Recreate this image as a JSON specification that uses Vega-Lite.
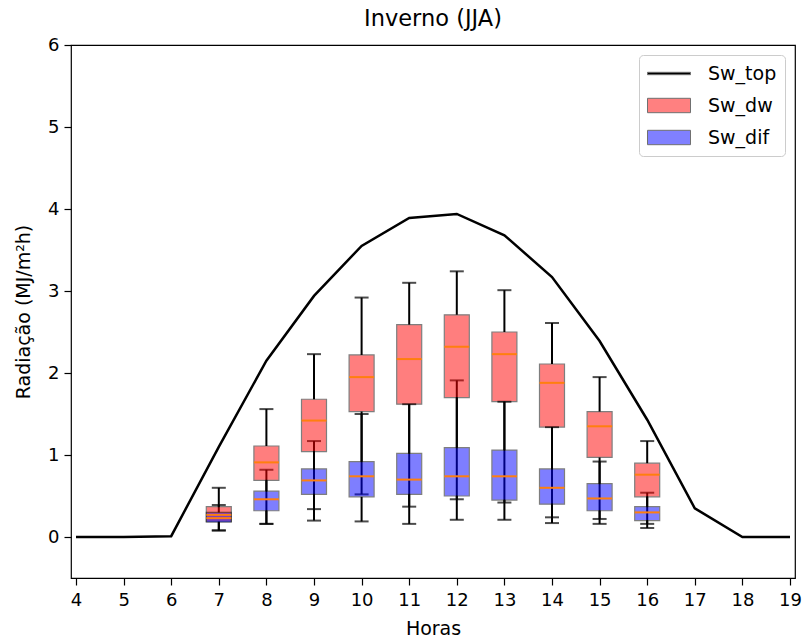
{
  "$schema": "https://vega.github.io/schema/vega-lite/v6.json",
  "width": 724,
  "height": 533,
  "autosize": {"type": "none"},
  "padding": {"left": 71, "top": 45, "right": 14, "bottom": 61},
  "background": "white",
  "title": {"text": "Inverno (JJA)", "font": "DejaVu Sans", "fontSize": 22.5, "fontWeight": "normal", "color": "black", "offset": 6},
  "config": {
    "view": {"stroke": "black", "strokeWidth": 1.2},
    "axis": {"grid": false, "domain": false, "labelFont": "DejaVu Sans", "labelFontSize": 18, "labelColor": "black", "titleFont": "DejaVu Sans", "titleFontSize": 19, "titleFontWeight": "normal", "titleColor": "black", "tickColor": "black", "tickSize": 7, "tickWidth": 1.2, "labelPadding": 5},
    "legend": {"labelFont": "DejaVu Sans", "labelFontSize": 19, "labelColor": "black"}
  },
  "datasets": {
    "top": [
      {"hour": 4, "v": 0}, {"hour": 5, "v": 0}, {"hour": 6, "v": 0.01}, {"hour": 7, "v": 1.1},
      {"hour": 8, "v": 2.15}, {"hour": 9, "v": 2.94}, {"hour": 10, "v": 3.55}, {"hour": 11, "v": 3.89},
      {"hour": 12, "v": 3.94}, {"hour": 13, "v": 3.68}, {"hour": 14, "v": 3.17}, {"hour": 15, "v": 2.39},
      {"hour": 16, "v": 1.43}, {"hour": 17, "v": 0.35}, {"hour": 18, "v": 0}, {"hour": 19, "v": 0}
    ],
    "boxes": [
      {"series": "Sw_dw", "hour": 7, "lo": 0.08, "q1": 0.19, "med": 0.27, "q3": 0.37, "hi": 0.60},
      {"series": "Sw_dw", "hour": 8, "lo": 0.16, "q1": 0.69, "med": 0.91, "q3": 1.11, "hi": 1.56},
      {"series": "Sw_dw", "hour": 9, "lo": 0.34, "q1": 1.04, "med": 1.42, "q3": 1.68, "hi": 2.23},
      {"series": "Sw_dw", "hour": 10, "lo": 0.52, "q1": 1.53, "med": 1.95, "q3": 2.22, "hi": 2.92},
      {"series": "Sw_dw", "hour": 11, "lo": 0.37, "q1": 1.62, "med": 2.17, "q3": 2.59, "hi": 3.10},
      {"series": "Sw_dw", "hour": 12, "lo": 0.46, "q1": 1.70, "med": 2.32, "q3": 2.71, "hi": 3.24},
      {"series": "Sw_dw", "hour": 13, "lo": 0.42, "q1": 1.65, "med": 2.23, "q3": 2.50, "hi": 3.01},
      {"series": "Sw_dw", "hour": 14, "lo": 0.24, "q1": 1.34, "med": 1.88, "q3": 2.11, "hi": 2.61},
      {"series": "Sw_dw", "hour": 15, "lo": 0.22, "q1": 0.97, "med": 1.35, "q3": 1.53, "hi": 1.95},
      {"series": "Sw_dw", "hour": 16, "lo": 0.16, "q1": 0.49, "med": 0.76, "q3": 0.90, "hi": 1.17},
      {"series": "Sw_dif", "hour": 7, "lo": 0.08, "q1": 0.18, "med": 0.23, "q3": 0.30, "hi": 0.39},
      {"series": "Sw_dif", "hour": 8, "lo": 0.16, "q1": 0.32, "med": 0.46, "q3": 0.56, "hi": 0.82},
      {"series": "Sw_dif", "hour": 9, "lo": 0.20, "q1": 0.52, "med": 0.69, "q3": 0.83, "hi": 1.17},
      {"series": "Sw_dif", "hour": 10, "lo": 0.19, "q1": 0.49, "med": 0.74, "q3": 0.92, "hi": 1.50},
      {"series": "Sw_dif", "hour": 11, "lo": 0.16, "q1": 0.52, "med": 0.70, "q3": 1.02, "hi": 1.62},
      {"series": "Sw_dif", "hour": 12, "lo": 0.21, "q1": 0.50, "med": 0.74, "q3": 1.09, "hi": 1.91},
      {"series": "Sw_dif", "hour": 13, "lo": 0.21, "q1": 0.45, "med": 0.74, "q3": 1.06, "hi": 1.65},
      {"series": "Sw_dif", "hour": 14, "lo": 0.17, "q1": 0.40, "med": 0.60, "q3": 0.83, "hi": 1.34},
      {"series": "Sw_dif", "hour": 15, "lo": 0.16, "q1": 0.32, "med": 0.47, "q3": 0.65, "hi": 0.92},
      {"series": "Sw_dif", "hour": 16, "lo": 0.11, "q1": 0.20, "med": 0.30, "q3": 0.37, "hi": 0.54}
    ],
    "legendrows": [
      {"series": "Sw_top", "hour": 10, "v": -10},
      {"series": "Sw_dw", "hour": 10, "v": -10},
      {"series": "Sw_dif", "hour": 10, "v": -10}
    ]
  },
  "layer": [
    {
      "data": {"name": "boxes"},
      "mark": {"type": "rule", "color": "black", "strokeWidth": 2},
      "encoding": {
        "x": {"field": "hour", "type": "quantitative", "scale": {"domain": [4, 19], "nice": false, "zero": false}, "axis": {"values": [4,5,6,7,8,9,10,11,12,13,14,15,16,17,18,19], "title": "Horas", "format": "d", "titlePadding": 10, "labelPadding": 6}},
        "y": {"field": "lo", "type": "quantitative", "scale": {"domain": [-0.5, 6], "nice": false, "zero": false}, "axis": {"values": [0,1,2,3,4,5,6], "format": "d", "title": "Radiação (MJ/m²h)", "titlePadding": 14}},
        "y2": {"field": "q1"}
      }
    },
    {
      "data": {"name": "boxes"},
      "mark": {"type": "rule", "color": "black", "strokeWidth": 2},
      "encoding": {
        "x": {"field": "hour", "type": "quantitative"},
        "y": {"field": "q3", "type": "quantitative"},
        "y2": {"field": "hi"}
      }
    },
    {
      "data": {"name": "boxes"},
      "mark": {"type": "tick", "orient": "horizontal", "color": "black", "size": 14, "thickness": 2},
      "encoding": {
        "x": {"field": "hour", "type": "quantitative"},
        "y": {"field": "lo", "type": "quantitative"}
      }
    },
    {
      "data": {"name": "boxes"},
      "mark": {"type": "tick", "orient": "horizontal", "color": "black", "size": 14, "thickness": 2},
      "encoding": {
        "x": {"field": "hour", "type": "quantitative"},
        "y": {"field": "hi", "type": "quantitative"}
      }
    },
    {
      "data": {"name": "boxes"},
      "transform": [{"filter": "datum.series == 'Sw_dw'"}],
      "mark": {"type": "bar", "size": 25, "fill": "#ff0000", "stroke": "black", "strokeWidth": 1.2, "opacity": 0.5},
      "encoding": {
        "x": {"field": "hour", "type": "quantitative"},
        "y": {"field": "q1", "type": "quantitative"},
        "y2": {"field": "q3"}
      }
    },
    {
      "data": {"name": "boxes"},
      "transform": [{"filter": "datum.series == 'Sw_dif'"}],
      "mark": {"type": "bar", "size": 25, "fill": "#0000ff", "stroke": "black", "strokeWidth": 1.2, "opacity": 0.5},
      "encoding": {
        "x": {"field": "hour", "type": "quantitative"},
        "y": {"field": "q1", "type": "quantitative"},
        "y2": {"field": "q3"}
      }
    },
    {
      "data": {"name": "boxes"},
      "mark": {"type": "tick", "orient": "horizontal", "color": "#ff7f0e", "size": 25, "thickness": 2, "opacity": 1},
      "encoding": {
        "x": {"field": "hour", "type": "quantitative"},
        "y": {"field": "med", "type": "quantitative"}
      }
    },
    {
      "data": {"name": "top"},
      "mark": {"type": "line", "color": "black", "strokeWidth": 2.5},
      "encoding": {
        "x": {"field": "hour", "type": "quantitative"},
        "y": {"field": "v", "type": "quantitative"}
      }
    },
    {
      "data": {"name": "legendrows"},
      "mark": {"type": "point", "filled": true, "clip": true, "opacity": 1},
      "encoding": {
        "x": {"field": "hour", "type": "quantitative"},
        "y": {"field": "v", "type": "quantitative"},
        "color": {"field": "series", "type": "nominal", "scale": {"domain": ["Sw_top", "Sw_dw", "Sw_dif"], "range": ["#000000", "#ff8080", "#8080ff"]},
          "legend": {"title": null, "orient": "top-right", "offset": 10, "padding": 8, "strokeColor": "#cccccc", "fillColor": "white", "cornerRadius": 4, "symbolSize": 400, "symbolStrokeColor": "#707070", "symbolStrokeWidth": 1, "labelOffset": 40, "rowPadding": 11, "labelFontSize": 19}},
        "shape": {"field": "series", "type": "nominal", "scale": {"domain": ["Sw_top", "Sw_dw", "Sw_dif"], "range": ["M-1,-0.12H3.3V0.12H-1Z", "M-1,-0.72H3.3V0.72H-1Z", "M-1,-0.72H3.3V0.72H-1Z"]},
          "legend": {"title": null, "orient": "top-right", "offset": 10, "padding": 8, "strokeColor": "#cccccc", "fillColor": "white", "cornerRadius": 4, "symbolSize": 400, "symbolStrokeColor": "#707070", "symbolStrokeWidth": 1, "labelOffset": 40, "rowPadding": 11, "labelFontSize": 19}}
      }
    }
  ],
  "encoding": {}
}
